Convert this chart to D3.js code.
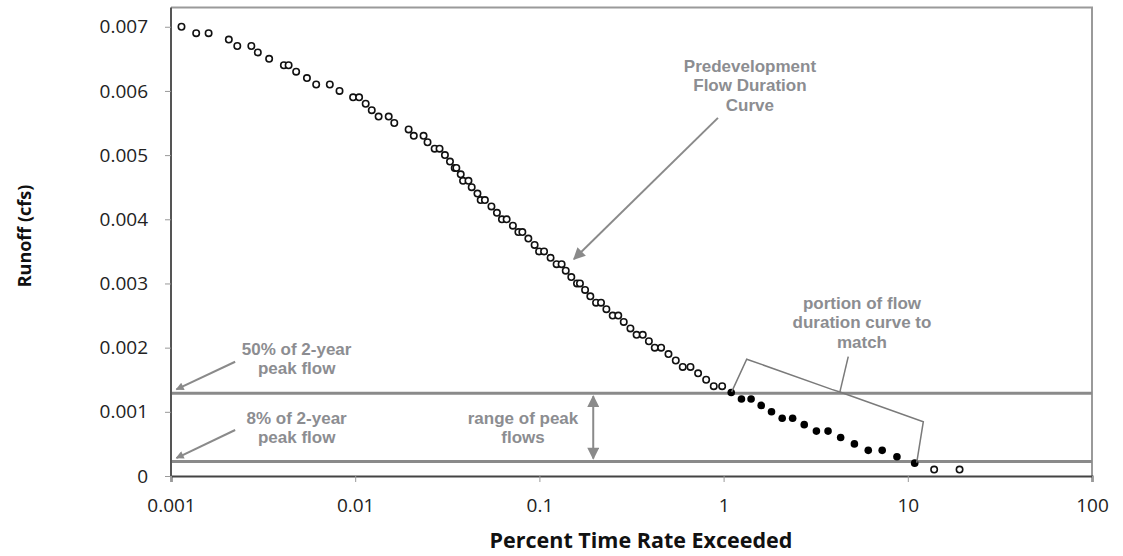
<!DOCTYPE html>
<html>
<head>
<meta charset="utf-8">
<script src="https://cdn.jsdelivr.net/npm/d3@7"></script>
<style>
  html, body { margin: 0; padding: 0; background: #fff; }
  svg { display: block; }
</style>
</head>
<body>
<svg id="chart" width="1123" height="556"></svg>
<script>
// ---------------- DATA ----------------
// Predevelopment flow duration curve (open circles): percent time exceeded / runoff (cfs)
const openX = [0.00114, 0.00137, 0.00160, 0.00206, 0.00229, 0.00273, 0.00296, 0.00341, 0.00410, 0.00435,
  0.00478, 0.00547, 0.00614, 0.00728, 0.00822, 0.00974, 0.0105, 0.0114, 0.0123, 0.0134,
  0.0152, 0.0163, 0.0195, 0.0208, 0.0235, 0.0247, 0.0270, 0.0287, 0.0307, 0.0327,
  0.0347, 0.0354, 0.0374, 0.0385, 0.0412, 0.0429, 0.0461, 0.0480, 0.0506, 0.0549,
  0.0588, 0.0626, 0.0664, 0.0718, 0.0769, 0.0808, 0.0871, 0.0942, 0.0996, 0.106,
  0.115, 0.124, 0.132, 0.139, 0.149, 0.160, 0.166, 0.177, 0.189, 0.203,
  0.216, 0.231, 0.250, 0.268, 0.287, 0.312, 0.337, 0.364, 0.393, 0.423,
  0.458, 0.502, 0.550, 0.600, 0.661, 0.727, 0.804, 0.884, 0.982,
  13.9, 19.1];
const openY = [0.0070, 0.0069, 0.0069, 0.0068, 0.0067, 0.0067, 0.0066, 0.0065, 0.0064, 0.0064,
  0.0063, 0.0062, 0.0061, 0.0061, 0.0060, 0.0059, 0.0059, 0.0058, 0.0057, 0.0056,
  0.0056, 0.0055, 0.0054, 0.0053, 0.0053, 0.0052, 0.0051, 0.0051, 0.0050, 0.0049,
  0.0048, 0.0048, 0.0047, 0.0046, 0.0046, 0.0045, 0.0044, 0.0043, 0.0043, 0.0042,
  0.0041, 0.0040, 0.0040, 0.0039, 0.0038, 0.0038, 0.0037, 0.0036, 0.0035, 0.0035,
  0.0034, 0.0033, 0.0033, 0.0032, 0.0031, 0.0030, 0.0030, 0.0029, 0.0028, 0.0027,
  0.0027, 0.0026, 0.0025, 0.0025, 0.0024, 0.0023, 0.0022, 0.0022, 0.0021, 0.0020,
  0.0020, 0.0019, 0.0018, 0.0017, 0.0017, 0.0016, 0.0015, 0.0014, 0.0014,
  0.0001, 0.0001];
// Portion of flow duration curve to match (filled circles)
const matchX = [1.10, 1.25, 1.41, 1.60, 1.82, 2.08, 2.37, 2.74, 3.19, 3.69, 4.32, 5.13, 6.10, 7.26, 8.73, 10.9];
const matchY = [0.0013, 0.0012, 0.0012, 0.0011, 0.0010, 0.0009, 0.0009, 0.0008, 0.0007, 0.0007, 0.0006, 0.0005, 0.0004, 0.0004, 0.0003, 0.0002];
// Reference flows (cfs)
const peakLevels = [0.00129, 0.000226];   // 50% and 8% of 2-year peak flow
// Axis ticks
const xTicks = [0.001, 0.01, 0.1, 1, 10, 100];
const xTickLabels = ["0.001", "0.01", "0.1", "1", "10", "100"];
const yTicks = [0, 0.001, 0.002, 0.003, 0.004, 0.005, 0.006, 0.007];
const yTickLabels = ["0", "0.001", "0.002", "0.003", "0.004", "0.005", "0.006", "0.007"];
const xTitle = "Percent Time Rate Exceeded";
const yTitle = "Runoff (cfs)";

// ---------------- LAYOUT ----------------
const L = 171, R = 1092, T = 7.5, B = 476;
const svg = d3.select("#chart");
const x = d3.scaleLog().domain([0.001, 100]).range([L, R]);
const y = d3.scaleLinear().domain([0, 0.0073]).range([B, T]);
const gray = "#8a8a8a";
const textGray = "#8c8d91";

// defs: arrow heads
const defs = svg.append("defs");
defs.append("marker").attr("id", "ah").attr("viewBox", "0 0 10 10")
  .attr("refX", 9).attr("refY", 5).attr("markerWidth", 9).attr("markerHeight", 8)
  .attr("markerUnits", "userSpaceOnUse").attr("orient", "auto-start-reverse")
  .append("path").attr("d", "M0,0 L10,5 L0,10 Z").attr("fill", gray);
defs.append("marker").attr("id", "ahBig").attr("viewBox", "0 0 10 10")
  .attr("refX", 9).attr("refY", 5).attr("markerWidth", 14).attr("markerHeight", 12)
  .attr("markerUnits", "userSpaceOnUse").attr("orient", "auto-start-reverse")
  .append("path").attr("d", "M0,0 L10,5 L0,10 Z").attr("fill", gray);

// frame (top / right)
svg.append("path")
  .attr("d", `M${L},${T} H${R} V${B}`)
  .attr("fill", "none").attr("stroke", "#9a9a9a").attr("stroke-width", 2);

// reference lines
svg.selectAll("line.peak").data(peakLevels).enter().append("line")
  .attr("class", "peak")
  .attr("x1", L).attr("x2", R)
  .attr("y1", d => y(d)).attr("y2", d => y(d))
  .attr("stroke", gray).attr("stroke-width", 3);

// axes
const xAxis = d3.axisBottom(x).tickValues(xTicks).tickFormat((d, i) => xTickLabels[i])
  .tickSize(6).tickPadding(17);
const gx = svg.append("g").attr("transform", `translate(0,${B})`).call(xAxis);
gx.select(".domain").attr("stroke", "#444").attr("stroke-width", 2);
gx.selectAll(".tick line").attr("stroke", "#999");
gx.selectAll(".tick text").attr("font-family", "Open Sans").attr("font-size", 19).attr("fill", "#222");

const yAxis = d3.axisLeft(y).tickValues(yTicks).tickFormat((d, i) => yTickLabels[i])
  .tickSize(6).tickPadding(17);
const gy = svg.append("g").attr("transform", `translate(${L},0)`).call(yAxis);
gy.select(".domain").attr("stroke", "#555").attr("stroke-width", 2).attr("d", `M0,${B}V${T}`);
gy.selectAll(".tick line").attr("stroke", "#999");
gy.selectAll(".tick text").attr("font-family", "Open Sans").attr("font-size", 19).attr("fill", "#222");

// axis titles
svg.append("text").attr("x", 641).attr("y", 548).attr("text-anchor", "middle")
  .attr("font-family", "Open Sans").attr("font-weight", "bold").attr("font-size", 21.5)
  .attr("fill", "#111").text(xTitle);
svg.append("text").attr("transform", `translate(31,236) rotate(-90)`).attr("text-anchor", "middle")
  .attr("font-family", "Open Sans").attr("font-weight", "bold").attr("font-size", 18)
  .attr("fill", "#111").text(yTitle);

// points
const openPts = openX.map((d, i) => ({ x: d, y: openY[i] }));
const matchPts = matchX.map((d, i) => ({ x: d, y: matchY[i] }));
svg.append("g").selectAll("circle").data(openPts).enter().append("circle")
  .attr("cx", d => x(d.x)).attr("cy", d => y(d.y)).attr("r", 3.2)
  .attr("fill", "#fff").attr("stroke", "#111").attr("stroke-width", 1.6);
svg.append("g").selectAll("circle").data(matchPts).enter().append("circle")
  .attr("cx", d => x(d.x)).attr("cy", d => y(d.y)).attr("r", 3.8)
  .attr("fill", "#000");

// ---------------- ANNOTATIONS ----------------
function label(lines, cx, cyFirst) {
  const t = svg.append("text").attr("text-anchor", "middle")
    .attr("font-family", "Liberation Sans, Arial, sans-serif").attr("font-weight", "bold")
    .attr("font-size", 17).attr("fill", textGray);
  lines.forEach((s, i) => {
    t.append("tspan").attr("x", x(cx)).attr("y", y(cyFirst) + 6 + i * 19.5).text(s);
  });
}
function arrow(x1, y1, x2, y2, marker) {
  svg.append("line")
    .attr("x1", x(x1)).attr("y1", y(y1)).attr("x2", x(x2)).attr("y2", y(y2))
    .attr("stroke", gray).attr("stroke-width", 2)
    .attr("marker-end", `url(#${marker})`);
}

// Predevelopment flow duration curve
label(["Predevelopment", "Flow Duration", "Curve"], 1.39, 0.00639);
arrow(0.932, 0.00558, 0.154, 0.00338, "ahBig");

// 50% / 8% labels
label(["50% of 2-year", "peak flow"], 0.00481, 0.00198);
arrow(0.00223, 0.00178, 0.00107, 0.00135, "ah");
label(["8% of 2-year", "peak flow"], 0.00481, 0.000904);
arrow(0.00223, 0.000717, 0.00107, 0.00028, "ah");

// range of peak flows
label(["range of peak", "flows"], 0.0815, 0.000904);
svg.append("line")
  .attr("x1", x(0.196)).attr("x2", x(0.196))
  .attr("y1", y(peakLevels[0]) + 3).attr("y2", y(peakLevels[1]) - 3)
  .attr("stroke", gray).attr("stroke-width", 2)
  .attr("marker-start", "url(#ahBig)").attr("marker-end", "url(#ahBig)");

// portion of flow duration curve to match (brace)
label(["portion of flow", "duration curve to", "match"], 5.64, 0.0027);
const brace = [[1.106, 0.00131], [1.335, 0.00182], [3.864, 0.00135], [4.28, 0.00131],
               [12.14, 0.000846], [11.18, 0.000207]];
svg.append("path")
  .attr("d", d3.line().x(d => x(d[0])).y(d => y(d[1])).curve(d3.curveLinear)(brace))
  .attr("fill", "none").attr("stroke", "#7a7a7a").attr("stroke-width", 1.5);
svg.append("path")
  .attr("d", d3.line().x(d => x(d[0])).y(d => y(d[1]))([[4.75, 0.00186], [4.28, 0.00131]]))
  .attr("fill", "none").attr("stroke", "#7a7a7a").attr("stroke-width", 1.5);
</script>
</body>
</html>
